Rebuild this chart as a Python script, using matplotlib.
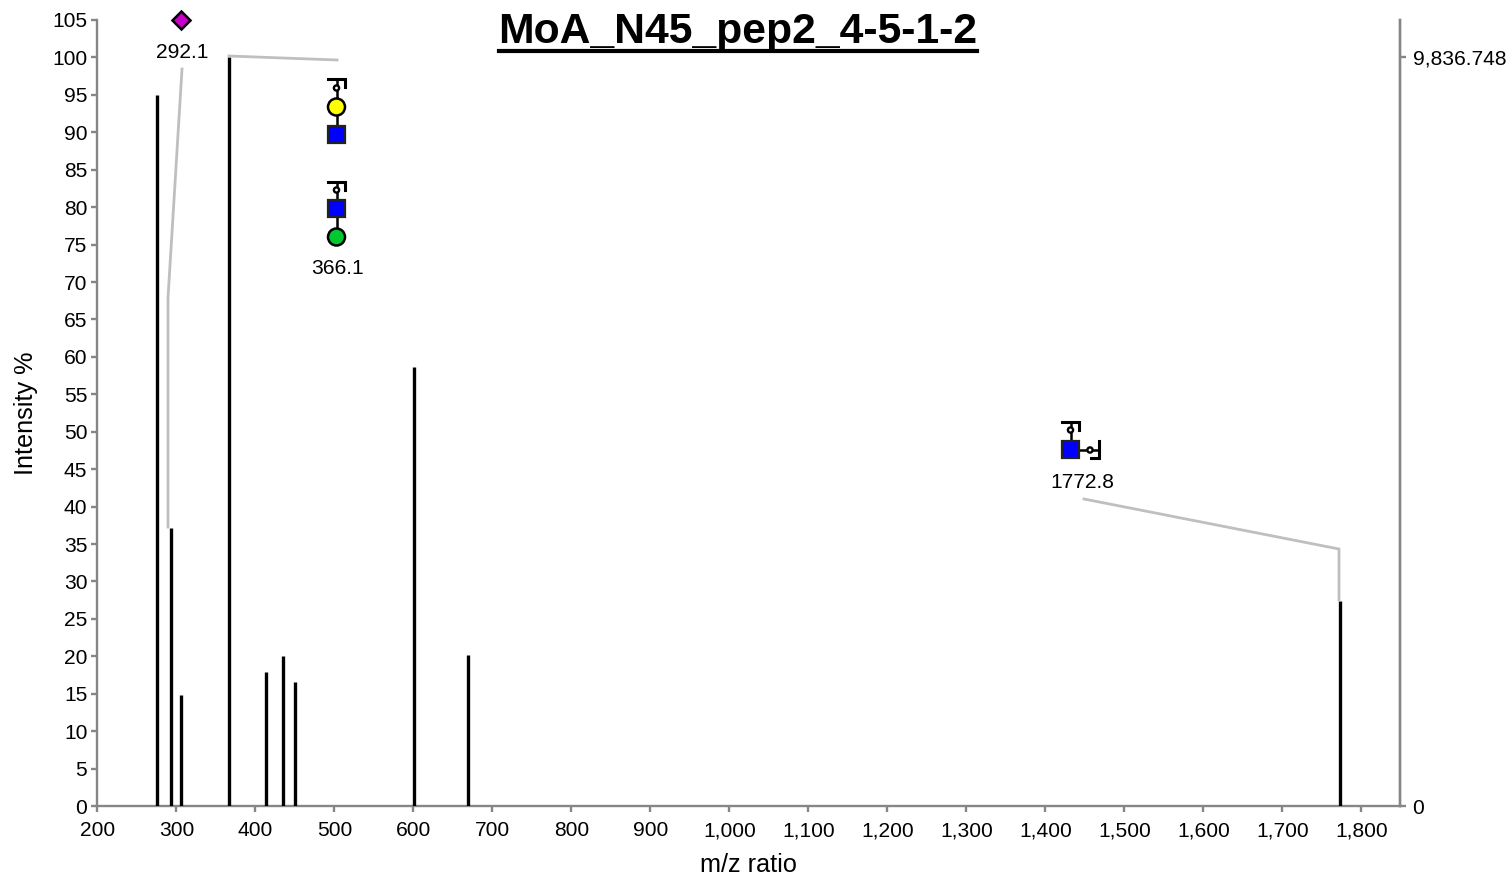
import matplotlib
matplotlib.use("Agg")
import matplotlib.pyplot as plt
from matplotlib.patches import Circle, Rectangle, Polygon

plt.rcParams["font.family"] = ["Liberation Sans", "DejaVu Sans"]

TITLE = "MoA_N45_pep2_4-5-1-2"
mz = [275.5, 293, 306, 367, 413.5, 435, 449.5, 601, 669.6, 1773]
intensity = [95.0, 37.1, 14.8, 100, 17.9, 20.0, 16.5, 58.6, 20.2, 27.4]
x_ticks = list(range(200, 1900, 100))
y_ticks = list(range(0, 110, 5))
max_abs = 9836.748

W, H = 1510, 880
GREY = "#868686"
LEADER = "#bfbfbf"
BLUE = "#0000ff"
YELLOW = "#ffff00"
GREEN = "#00c832"
PURPLE = "#c800c8"
FS = 15.1

fig = plt.figure(figsize=(W / 100, H / 100), dpi=100)
L, R, T, B = 97, 1400, 20, 806
ax = fig.add_axes([L / W, 1 - B / H, (R - L) / W, (B - T) / H])

ax.vlines(mz, 0, intensity, color="black", lw=2.4, zorder=3)
ax.set_xlim(200 - 0.6, 200 - 0.6 + (R - L) / 0.79)
ax.set_ylim(0, 105)
ax.set_xticks(x_ticks)
ax.set_xticklabels([f"{v:,}" for v in x_ticks])
ax.set_yticks(y_ticks)
ax.tick_params(labelsize=FS, color=GREY, width=1.7, length=4, pad=3)
ax.tick_params(axis="x", pad=7)
ax.set_xlabel("m/z ratio", fontsize=18.2, labelpad=9)
ax.set_ylabel("Intensity %", fontsize=18.2, labelpad=10.5)
ax.spines["top"].set_visible(False)
for s in ["left", "bottom", "right"]:
    ax.spines[s].set_color(GREY)
    ax.spines[s].set_linewidth(1.7)

ax2 = ax.twinx()
ax2.set_ylim(0, 105 * max_abs / 100)
ax2.set_yticks([0, max_abs])
ax2.set_yticklabels(["0", f"{max_abs:,.3f}"])
ax2.tick_params(labelsize=FS, color=GREY, width=1.7, length=4, pad=5)
ax2.spines["top"].set_visible(False)
ax2.spines["left"].set_visible(False)
ax2.spines["bottom"].set_visible(False)
ax2.spines["right"].set_color(GREY)
ax2.spines["right"].set_linewidth(1.7)

# overlay in pixel coordinates for title, leaders and glycan cartoons
ov = fig.add_axes([0, 0, 1, 1])
ov.set_xlim(0, W)
ov.set_ylim(H, 0)
ov.axis("off")
ov.patch.set_alpha(0)

ov.text(738, 32, TITLE, fontsize=30.7, fontweight="bold", ha="center", va="center")
ov.plot([499, 977], [51, 51], color="black", lw=3)


def leader(xs, ys):
    ov.plot(xs, ys, color=LEADER, lw=2, zorder=1, solid_joinstyle="miter")


def link(x0, y0, x1, y1):
    ov.plot([x0, x1], [y0, y1], color="black", lw=1.8, zorder=2)


def square(x, y, c=BLUE):
    ov.add_patch(Rectangle((x - 8.5, y - 8.5), 17, 17, fc=c, ec="#222222", lw=1.6, zorder=4))


def circle(x, y, c, r=8.5):
    ov.add_patch(Circle((x, y), r, fc=c, ec="black", lw=1.8, zorder=4))


def small(x, y):
    ov.add_patch(Circle((x, y), 2.6, fc="white", ec="black", lw=1.7, zorder=4))


def cap_top(x, y):
    # bracket above a residue
    ov.plot([x - 9, x + 8.5, x + 8.5], [y, y, y + 8], color="black", lw=2.2, zorder=3,
            solid_joinstyle="miter")


leader([182, 168, 168], [69, 298, 527])
leader([229, 337], [56, 60])
leader([1084, 1339, 1339], [499, 549, 600])

# 292.1
ov.add_patch(Polygon([(181.5, 11.5), (190.5, 20.5), (181.5, 29.5), (172.5, 20.5)],
                     fc=PURPLE, ec="black", lw=1.8, zorder=4))
ov.text(182, 52.5, "292.1", fontsize=FS, ha="center", va="center")

# 366.1 upper stack
cap_top(336.5, 79)
link(336.5, 79, 336.5, 135)
small(336.5, 88)
circle(336.5, 107, YELLOW)
square(336.5, 135)

# 366.1 lower stack
cap_top(336.5, 182)
link(336.5, 182, 336.5, 237)
small(336.5, 190)
square(336.5, 209)
circle(336.5, 237, GREEN)
ov.text(337, 269, "366.1", fontsize=FS, ha="center", va="center")

# 1772.8
cap_top(1070.5, 422)
link(1070.5, 422, 1070.5, 450)
link(1070.5, 450, 1099, 450)
small(1070.5, 430)
small(1090, 450)
ov.plot([1099, 1099, 1091], [441, 458.5, 458.5], color="black", lw=2.2, zorder=3,
        solid_joinstyle="miter")
square(1070.5, 449.5)
ov.text(1082, 482, "1772.8", fontsize=FS, ha="center", va="center")

fig.savefig("out.png", dpi=100)
